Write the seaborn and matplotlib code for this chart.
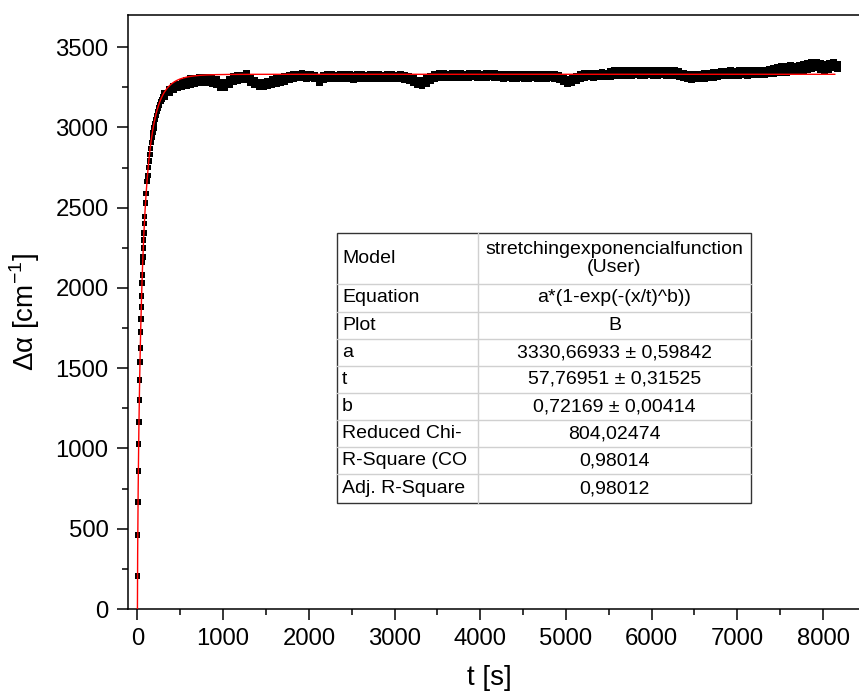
import numpy as np
import pandas as pd
import matplotlib
matplotlib.use("Agg")
import matplotlib.pyplot as plt
from matplotlib.ticker import MultipleLocator
from matplotlib.patches import Rectangle
import seaborn as sns

# ---- measured absorption change: initial rise (individual samples) ----
t_early = [1.3, 4.1, 7.2, 10.8, 14.5, 18.0, 21.8, 25.8, 29.7, 33.1,
           37.3, 41.0, 44.7, 48.4, 53.0, 56.1, 61.5, 63.7, 67.9, 71.9,
           75.6, 81.2, 85.1, 94.2, 101.5, 111.2]
y_early = [205, 461, 666, 860, 1027, 1165, 1301, 1426, 1538, 1625,
           1725, 1806, 1880, 1949, 2030, 2080, 2160, 2192, 2248, 2298,
           2341, 2403, 2443, 2528, 2589, 2661]

# ---- knee of the curve ----
t_knee = [115, 122, 130, 138, 146, 155, 164, 173, 182, 192,
          202, 213, 224, 236, 248, 260, 273, 286, 300]
y_knee = [2670, 2700, 2750, 2790, 2830, 2870, 2905, 2940, 2970, 2995,
          3020, 3050, 3075, 3100, 3120, 3140, 3160, 3175, 3190]

# ---- plateau: upper and lower readings of the scatter band ----
t_band = [320, 370, 420, 470, 520, 570, 620, 670, 720, 770,
          820, 870, 920, 970, 1020, 1070, 1120, 1170, 1220, 1270,
          1320, 1370, 1420, 1470, 1520, 1570, 1620, 1670, 1720, 1770,
          1820, 1870, 1920, 1970, 2020, 2070, 2120, 2170, 2220, 2270,
          2320, 2370, 2420, 2470, 2520, 2570, 2620, 2670, 2720, 2770,
          2820, 2870, 2920, 2970, 3020, 3070, 3120, 3170, 3220, 3270,
          3320, 3370, 3420, 3470, 3520, 3570, 3620, 3670, 3720, 3770,
          3820, 3870, 3920, 3970, 4020, 4070, 4120, 4170, 4220, 4270,
          4320, 4370, 4420, 4470, 4520, 4570, 4620, 4670, 4720, 4770,
          4820, 4870, 4920, 4970, 5020, 5070, 5120, 5170, 5220, 5270,
          5320, 5370, 5420, 5470, 5520, 5570, 5620, 5670, 5720, 5770,
          5820, 5870, 5920, 5970, 6020, 6070, 6120, 6170, 6220, 6270,
          6320, 6370, 6420, 6470, 6520, 6570, 6620, 6670, 6720, 6770,
          6820, 6870, 6920, 6970, 7020, 7070, 7120, 7170, 7220, 7270,
          7320, 7370, 7420, 7470, 7520, 7570, 7620, 7670, 7720, 7770,
          7820, 7870, 7920, 7970, 8020, 8070, 8120, 8170]
band_hi = [3210, 3235, 3256, 3270, 3282, 3292, 3302, 3308, 3312, 3314,
           3313, 3310, 3300, 3282, 3278, 3296, 3316, 3322, 3326, 3336,
           3310, 3294, 3282, 3278, 3286, 3296, 3302, 3308, 3316, 3326,
           3330, 3332, 3334, 3330, 3332, 3326, 3312, 3324, 3328, 3330,
           3326, 3328, 3330, 3327, 3324, 3328, 3330, 3326, 3328, 3330,
           3327, 3325, 3328, 3330, 3326, 3328, 3324, 3318, 3304, 3292,
           3290, 3302, 3318, 3330, 3334, 3336, 3332, 3334, 3337, 3334,
           3332, 3336, 3338, 3334, 3332, 3336, 3338, 3334, 3332, 3330,
           3332, 3328, 3330, 3332, 3328, 3330, 3332, 3330, 3328, 3330,
           3332, 3330, 3324, 3312, 3298, 3306, 3320, 3330, 3336, 3338,
           3334, 3338, 3340, 3338, 3346, 3354, 3352, 3356, 3354, 3356,
           3358, 3354, 3356, 3358, 3354, 3356, 3358, 3356, 3352, 3354,
           3346, 3336, 3330, 3328, 3330, 3332, 3334, 3336, 3340, 3344,
           3348, 3350, 3352, 3350, 3352, 3354, 3352, 3354, 3356, 3354,
           3358, 3364, 3368, 3372, 3378, 3380, 3384, 3382, 3386, 3390,
           3398, 3404, 3406, 3396, 3390, 3398, 3402, 3392]
band_lo = [3190, 3215, 3234, 3246, 3254, 3260, 3266, 3272, 3276, 3278,
           3277, 3274, 3264, 3250, 3246, 3264, 3288, 3294, 3298, 3300,
           3282, 3266, 3254, 3252, 3258, 3268, 3274, 3280, 3288, 3298,
           3306, 3308, 3310, 3306, 3308, 3302, 3280, 3300, 3304, 3306,
           3302, 3304, 3306, 3303, 3300, 3304, 3306, 3302, 3304, 3306,
           3303, 3301, 3304, 3306, 3302, 3304, 3300, 3292, 3276, 3264,
           3262, 3274, 3292, 3306, 3310, 3312, 3308, 3310, 3313, 3310,
           3308, 3312, 3314, 3310, 3308, 3312, 3314, 3310, 3308, 3306,
           3308, 3304, 3306, 3308, 3304, 3306, 3308, 3306, 3304, 3306,
           3308, 3306, 3300, 3284, 3270, 3278, 3292, 3306, 3312, 3314,
           3310, 3314, 3316, 3314, 3318, 3322, 3320, 3324, 3322, 3324,
           3326, 3322, 3324, 3326, 3322, 3324, 3326, 3324, 3320, 3322,
           3318, 3308, 3302, 3300, 3302, 3304, 3306, 3308, 3312, 3316,
           3320, 3322, 3324, 3322, 3324, 3326, 3324, 3326, 3328, 3326,
           3330, 3332, 3336, 3340, 3342, 3344, 3348, 3346, 3350, 3354,
           3362, 3368, 3370, 3360, 3354, 3362, 3370, 3364]

# ---- stretched-exponential fit parameters ----
fit_a = 3330.66933
fit_t = 57.76951
fit_b = 0.72169
fit_end = 8140

table_rows = [
    ("Model", "stretchingexponencialfunction\n(User)"),
    ("Equation", "a*(1-exp(-(x/t)^b))"),
    ("Plot", "B"),
    ("a", "3330,66933 \u00b1 0,59842"),
    ("t", "57,76951 \u00b1 0,31525"),
    ("b", "0,72169 \u00b1 0,00414"),
    ("Reduced Chi-", "804,02474"),
    ("R-Square (CO", "0,98014"),
    ("Adj. R-Square", "0,98012"),
]

sns.set_theme(style="ticks")
plt.rcParams["font.family"] = ["Liberation Sans", "DejaVu Sans"]
plt.rcParams["mathtext.fontset"] = "custom"
plt.rcParams["mathtext.rm"] = "Liberation Sans"

rise = pd.DataFrame({"t": t_early + t_knee, "y": y_early + y_knee})
band = pd.DataFrame({"t": t_band + t_band, "y": band_hi + band_lo})

t_fit = np.concatenate([np.linspace(0, 300, 900), np.linspace(300, fit_end, 600)[1:]])
y_fit = fit_a * (1 - np.exp(-(t_fit / fit_t) ** fit_b))
fit_df = pd.DataFrame({"t": t_fit, "y": y_fit})

fig = plt.figure(figsize=(8.59, 7.0), dpi=100)
W, H = 859, 700
ax = fig.add_axes([128 / W, (H - 609) / H, 731 / W, 594 / H])

sns.scatterplot(data=rise, x="t", y="y", marker="s", s=15, color="black",
                edgecolor="none", linewidth=0, ax=ax, zorder=3)
sns.scatterplot(data=band, x="t", y="y", marker="s", s=24, color="black",
                edgecolor="none", linewidth=0, ax=ax, zorder=3)
sns.lineplot(data=fit_df, x="t", y="y", color="red", linewidth=1.0,
             estimator=None, sort=False, ax=ax, zorder=4)

ax.set_xlim(-110, 8420)
ax.set_ylim(0, 3700)
ax.xaxis.set_major_locator(MultipleLocator(1000))
ax.xaxis.set_minor_locator(MultipleLocator(500))
ax.yaxis.set_major_locator(MultipleLocator(500))
ax.yaxis.set_minor_locator(MultipleLocator(250))
ax.tick_params(which="major", direction="out", length=8, width=1.1,
               labelsize=17.2, color="black", labelcolor="black")
ax.tick_params(which="minor", direction="out", length=4, width=1.1, color="black")
ax.tick_params(axis="x", which="major", pad=6)
ax.tick_params(axis="y", which="major", pad=6)
for side in ("left", "bottom", "top"):
    ax.spines[side].set_linewidth(1.1)
    ax.spines[side].set_color("black")
ax.spines["right"].set_visible(False)

ax.set_xlabel("t [s]", fontsize=20, color="black")
ax.set_ylabel("\u0394\u03b1 [cm$^{\\mathregular{-1}}$]", fontsize=20, color="black")
ax.xaxis.set_label_coords(0.495, -0.095)
ax.yaxis.set_label_coords(-0.118, 0.5)

# ---- fit results table ----
tx0, tx1, tdiv = (337 - 128) / 731, (751 - 128) / 731, (478 - 128) / 731
row_px = [233, 284, 311.7, 339, 366, 393, 420, 447.3, 474, 503]
row_y = [(609 - p) / 594 for p in row_px]
ax.add_patch(Rectangle((tx0, row_y[-1]), tx1 - tx0, row_y[0] - row_y[-1],
                       transform=ax.transAxes, facecolor="white",
                       edgecolor="#333333", linewidth=1.0, zorder=6))
for yy in row_y[1:-1]:
    ax.plot([tx0, tx1], [yy, yy], transform=ax.transAxes, color="#d0d0d0",
            linewidth=1.0, zorder=7)
ax.plot([tdiv, tdiv], [row_y[-1], row_y[0]], transform=ax.transAxes,
        color="#d0d0d0", linewidth=1.0, zorder=7)
for i, (left, right) in enumerate(table_rows):
    yc = (row_y[i] + row_y[i + 1]) / 2
    ax.text(tx0 + 0.007, yc, left, transform=ax.transAxes, ha="left",
            va="center", fontsize=14, color="black", zorder=8)
    ax.text((tdiv + tx1) / 2, yc, right, transform=ax.transAxes, ha="center",
            va="center", fontsize=14, color="black", zorder=8,
            linespacing=1.0)

fig.savefig("out.png", dpi=100, facecolor="white")
